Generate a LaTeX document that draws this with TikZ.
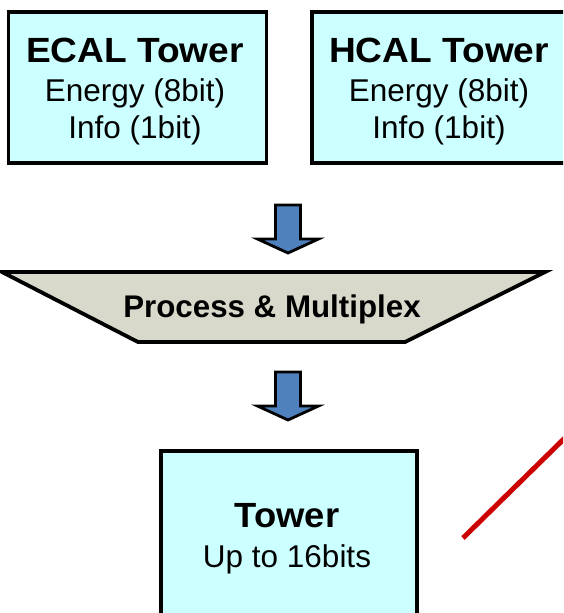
\documentclass[tikz,border=0pt]{standalone}
\usepackage{fontspec}
\setmainfont{Liberation Sans}
\begin{document}
\begin{tikzpicture}[x=1pt,y=-1pt,
  towerbox/.style={draw=black,line width=3.8pt,line join=miter},
  muxbox/.style={draw=black,line width=3.8pt,fill=muxgray,line join=miter},
  titletext/.style={font=\fontsize{35}{38}\selectfont\bfseries,anchor=base,inner sep=0pt},
  bodytext/.style={font=\fontsize{31.5}{34}\selectfont,anchor=base,inner sep=0pt},
  muxtext/.style={font=\fontsize{31.3}{34}\selectfont\bfseries,anchor=base,inner sep=0pt},
  flowarrow/.pic={
    \draw[draw=black,line width=2.8pt,fill=arrowblue,line join=miter]
      (-12.5,0) -- (12.5,0) -- (12.5,34) -- (30.5,34) -- (0,48)
      -- (-30.5,34) -- (-12.5,34) -- cycle;
  }
]
\definecolor{muxgray}{HTML}{D9D9CB}
\definecolor{arrowblue}{HTML}{4F81BD}
\definecolor{boxcyan}{HTML}{CCFFFF}
\definecolor{linered}{HTML}{CC0000}
\tikzset{towerbox/.append style={fill=boxcyan}}

\useasboundingbox (0,0) rectangle (563,613);
\clip (0,0) rectangle (563,613);

% input towers
\node[towerbox,minimum width=258pt,minimum height=151pt,anchor=north west] (ecal) at (6.5,10) {};
\node[towerbox,minimum width=258pt,minimum height=151pt,anchor=north west] (hcal) at (310,10) {};

\node[titletext] (ecaltitle) at (135,62) {\scalebox{1.06}[1]{ECAL Tower}};
\node[bodytext]  (ecalenergy) at (135,101) {Energy (8bit)};
\node[bodytext]  (ecalinfo) at (135,138) {Info (1bit)};

\node[titletext] (hcaltitle) at (439,62) {\scalebox{1.06}[1]{HCAL Tower}};
\node[bodytext]  (hcalenergy) at (439,101) {Energy (8bit)};
\node[bodytext]  (hcalinfo) at (439,138) {Info (1bit)};

% first block arrow
\pic at (288,205) {flowarrow};

% process and multiplex stage
\draw[muxbox] (2,272) -- (545,272) -- (405,342) -- (138,342) -- cycle;
\node[muxtext] (mux) at (272,317) {Process \& Multiplex};

% second block arrow
\pic at (288,372) {flowarrow};

% output tower
\node[towerbox,minimum width=256pt,minimum height=200pt,anchor=north west] (out) at (159,449) {};
\node[titletext] (outtitle) at (287,527) {\scalebox{1.04}[1]{Tower}};
\node[bodytext]  (outbits) at (287,567) {Up to 16bits};

% red marker line
\coordinate (redA) at (463,538);
\coordinate (redB) at (575,428);
\draw[linered,line width=5pt] (redA) -- (redB);
\end{tikzpicture}
\end{document}
